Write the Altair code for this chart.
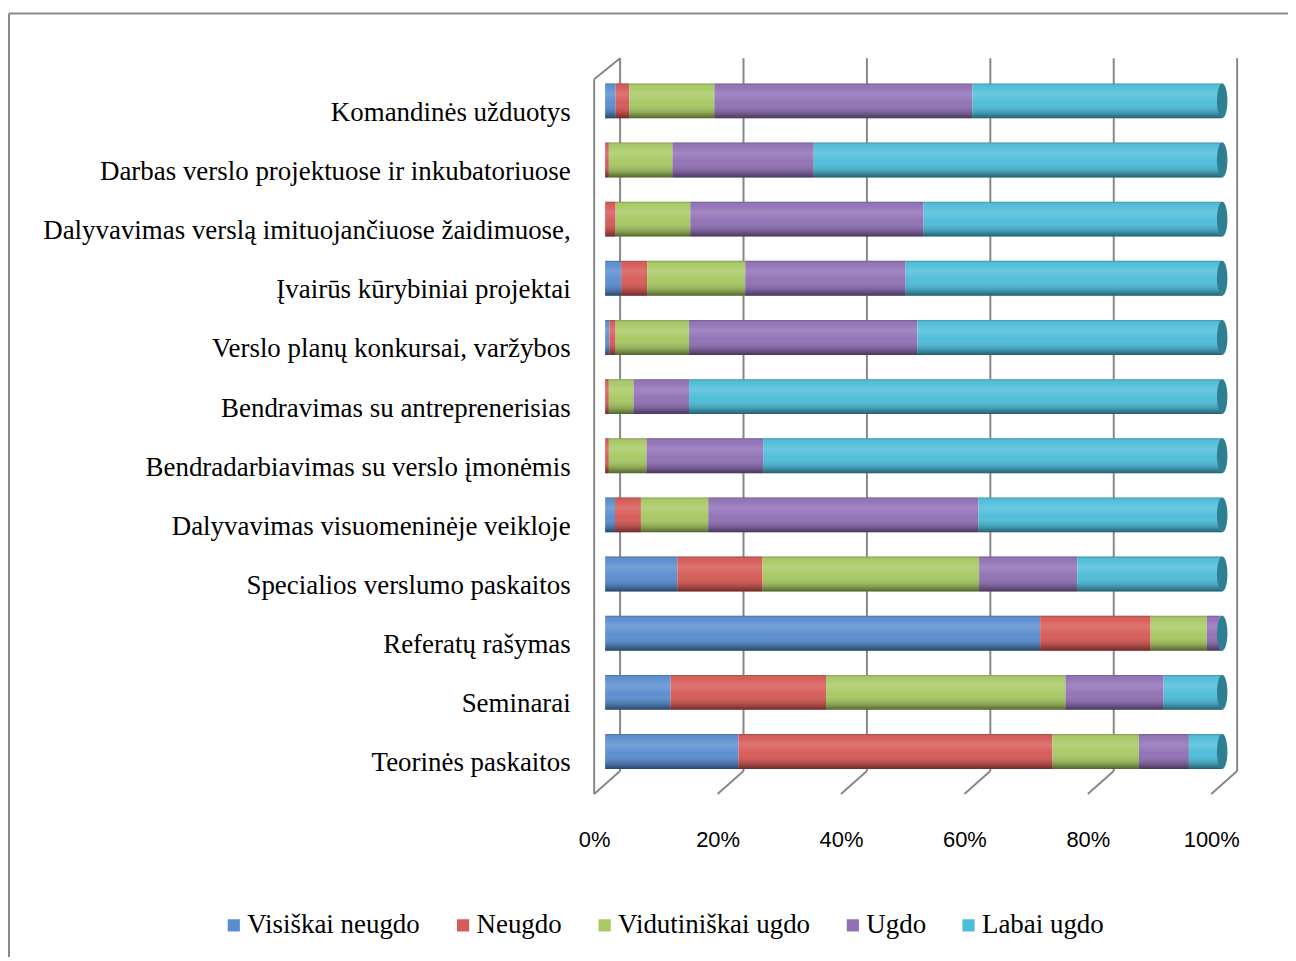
import altair as alt
import pandas as pd

categories = [
    "Komandinės užduotys",
    "Darbas verslo projektuose ir inkubatoriuose",
    "Dalyvavimas verslą imituojančiuose žaidimuose,",
    "Įvairūs kūrybiniai projektai",
    "Verslo planų konkursai, varžybos",
    "Bendravimas su  antreprenerisias",
    "Bendradarbiavimas su verslo įmonėmis",
    "Dalyvavimas visuomeninėje veikloje",
    "Specialios verslumo paskaitos",
    "Referatų rašymas",
    "Seminarai",
    "Teorinės paskaitos",
]
series = ["Visiškai neugdo", "Neugdo", "Vidutiniškai ugdo", "Ugdo", "Labai ugdo"]

visiskai_neugdo = [1.7, 0.0, 0.0, 2.6, 0.7, 0.0, 0.0, 1.6, 11.7, 70.5, 10.6, 21.6]
neugdo = [2.2, 0.6, 1.7, 4.2, 1.0, 0.6, 0.6, 4.2, 13.8, 17.9, 25.2, 50.9]
vidutiniskai_ugdo = [13.8, 10.3, 12.1, 15.9, 11.9, 4.0, 6.1, 10.9, 35.1, 9.1, 38.8, 14.0]
ugdo = [41.8, 22.9, 37.8, 26.0, 37.0, 9.0, 18.9, 43.8, 15.9, 2.0, 15.9, 8.1]
labai_ugdo = [40.5, 66.2, 48.4, 51.3, 49.4, 86.4, 74.4, 39.5, 23.5, 0.5, 9.5, 5.4]

tick_values = [0, 20, 40, 60, 80, 100]
colors = ["#5A8ED0", "#D65A57", "#A8C964", "#9171B6", "#4EBDDA"]

all_series = [visiskai_neugdo, neugdo, vidutiniskai_ugdo, ugdo, labai_ugdo]
rows = []
for i, cat in enumerate(categories):
    for j, s in enumerate(series):
        rows.append({"cat": cat, "series": s, "order": j, "value": all_series[j][i]})
df = pd.DataFrame(rows)
totals = pd.DataFrame({
    "cat": categories,
    "start": [0] * len(categories),
    "total": [sum(vals[i] for vals in all_series) for i in range(len(categories))],
})
ticks = pd.DataFrame({"v": tick_values})

GRID = "#878787"
x_scale = alt.Scale(domain=[0, 100], nice=False, zero=True)
y_scale = alt.Scale(domain=categories, paddingInner=0.41, paddingOuter=0.205)

# back wall gridlines
grid = alt.Chart(ticks).mark_rule(color=GRID, strokeWidth=2, xOffset=15).encode(
    x=alt.X("v:Q", scale=x_scale, title=None),
    y=alt.value(-13),
    y2=alt.value(702),
)
# floor diagonals
floor = alt.Chart(ticks).mark_rule(color=GRID, strokeWidth=2, xOffset=15, x2Offset=-11).encode(
    x=alt.X("v:Q", scale=x_scale, title=None),
    x2=alt.X2("v"),
    y=alt.value(702),
    y2=alt.value(725),
)
one = alt.Data(values=[{}])
left_front = alt.Chart(one).mark_rule(color=GRID, strokeWidth=2).encode(
    x=alt.value(-11), y=alt.value(8), y2=alt.value(725)
)
top_left = alt.Chart(one).mark_rule(color=GRID, strokeWidth=2).encode(
    x=alt.value(-11), x2=alt.value(15), y=alt.value(8), y2=alt.value(-13)
)
border_top = alt.Chart(one).mark_rule(color="#8A8A8A", strokeWidth=2).encode(
    x=alt.value(-598), x2=alt.value(700), y=alt.value(-58)
)
border_left = alt.Chart(one).mark_rule(color="#8A8A8A", strokeWidth=2).encode(
    x=alt.value(-598), y=alt.value(-58), y2=alt.value(900)
)

bars = alt.Chart(df).mark_bar().encode(
    x=alt.X("value:Q", stack="zero", scale=x_scale, title=None),
    y=alt.Y("cat:N", scale=y_scale, title=None),
    color=alt.Color(
        "series:N",
        scale=alt.Scale(domain=series, range=colors),
        legend=alt.Legend(
            orient="none", legendX=-386, legendY=843, direction="horizontal", title=None,
            symbolType="square", symbolSize=150, symbolStrokeWidth=0,
            labelFont="Liberation Serif", labelFontSize=27, labelColor="#000000",
            columnPadding=29, labelOffset=0, labelLimit=400,
        ),
    ),
    order=alt.Order("order:Q"),
)

shade = alt.LinearGradient(
    gradient="linear", x1=0, x2=0, y1=0, y2=1,
    stops=[
        alt.GradientStop(offset=0, color="rgba(0,0,0,0.22)"),
        alt.GradientStop(offset=0.1, color="rgba(255,255,255,0.02)"),
        alt.GradientStop(offset=0.3, color="rgba(255,255,255,0.16)"),
        alt.GradientStop(offset=0.55, color="rgba(255,255,255,0.02)"),
        alt.GradientStop(offset=0.85, color="rgba(0,0,0,0.2)"),
        alt.GradientStop(offset=1, color="rgba(0,0,0,0.5)"),
    ],
)
overlay = alt.Chart(totals).mark_bar(fill=shade).encode(
    x=alt.X("start:Q", scale=x_scale, title=None),
    x2=alt.X2("total"),
    y=alt.Y("cat:N", scale=y_scale, title=None),
)
caps = alt.Chart(totals).mark_point(
    shape="M0,-1A0.3,1,0,1,1,0,1A0.3,1,0,1,1,0,-1Z",
    size=1225, filled=True, fill="#2F7F93", opacity=1, strokeWidth=0,
).encode(
    x=alt.X("total:Q", scale=x_scale, title=None),
    y=alt.Y("cat:N", scale=y_scale, title=None),
)

chart = alt.layer(
    border_top, border_left, grid, floor, left_front, top_left, bars, overlay, caps
).properties(
    width=619, height=712,
    background="white",
    autosize=alt.AutoSizeParams(type="none"),
    padding={"left": 599, "top": 62, "right": 66, "bottom": 175},
).configure_view(
    stroke="transparent"
).configure_axisX(
    tickCount=5, labelExpr="datum.value % 20 == 0 ? datum.value + '%' : ''",
    grid=False, domain=False, labelOverlap=False,
    ticks=False, labelFont="Liberation Sans", labelFontSize=22, labelFlush=False,
    labelColor="#000000", labelPadding=49, labelOffset=-11,
).configure_axisY(
    domain=False, ticks=False, grid=False, labelFont="Liberation Serif",
    labelFontSize=27, labelColor="#000000", labelPadding=35, labelLimit=700,
    labelOffset=12,
)

chart.save("out.html", embed_options={"renderer": "svg", "actions": False})
